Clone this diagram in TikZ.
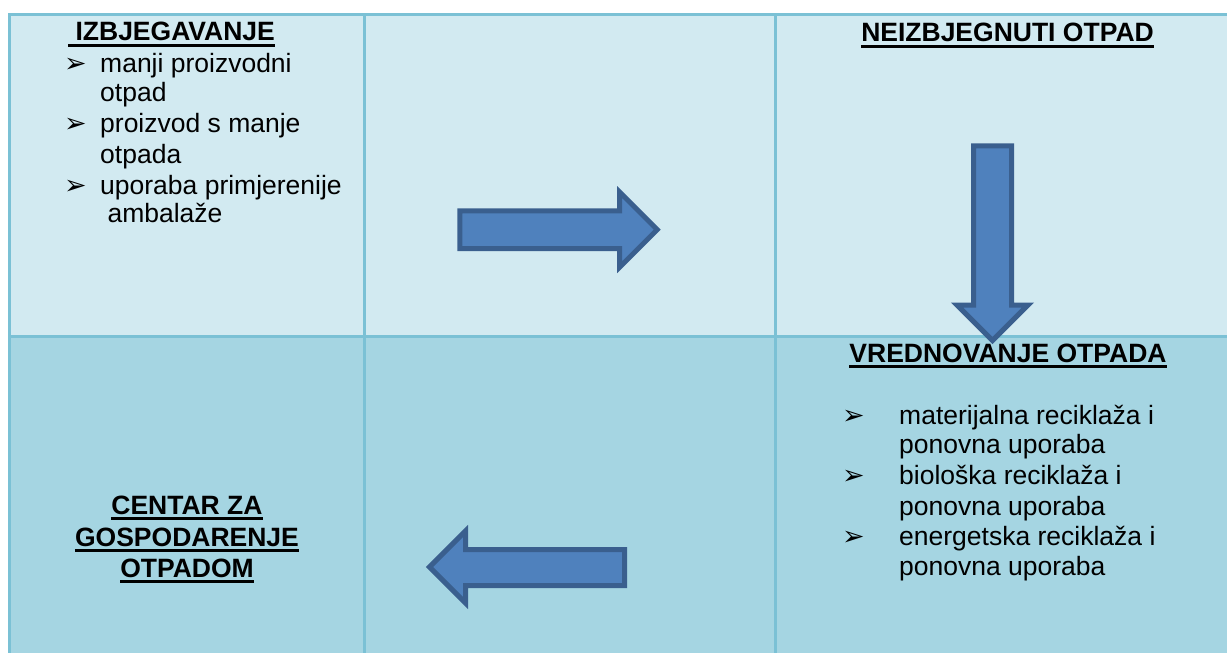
\documentclass[tikz,border=0pt]{standalone}
\usepackage{fontspec}
\setmainfont{Liberation Sans}
\newfontfamily\dejavu{DejaVu Sans}
\usepackage{tikz}
\definecolor{rowtop}{HTML}{D2EAF1}
\definecolor{rowbot}{HTML}{A5D5E2}
\definecolor{gridline}{HTML}{7BC1D5}
\definecolor{arrfill}{HTML}{4F81BD}
\definecolor{arrline}{HTML}{3A5F8E}
\newcommand{\cellt}[4]{\fill[rowtop] ( #1 , #2 ) rectangle ( #3 , #4 );}
\newcommand{\cellb}[4]{\fill[rowbot] ( #1 , #2 ) rectangle ( #3 , #4 );}
\newcommand{\bul}{{\dejavu\fontsize{27}{27}\selectfont ➢}}
\newcommand{\ulnode}[1]{\draw[line width=3pt] ([yshift=-4.5pt]#1.base west) -- ([yshift=-4.5pt]#1.base east);}

\begin{document}
\begin{tikzpicture}[x=1pt, y=-1pt,
    grid/.style={draw=gridline, line width=3pt},
    blockarrow/.style={fill=arrfill, draw=arrline, line width=5pt, miter limit=10},
    txt/.style={anchor=base west, inner sep=0pt, font=\fontsize{26.5}{30}\selectfont},
    head/.style={anchor=base, inner sep=0pt, font=\bfseries\fontsize{26.5}{30}\selectfont},
    bulnode/.style={anchor=base west, inner sep=0pt}]
    \useasboundingbox (0,0) rectangle (1227,653);
    % row 1
    \cellt{9.5}{14.5}{364.3}{336.5}
    \cellt{364.3}{14.5}{775}{336.5}
    \cellt{775}{14.5}{1227}{336.5}
    % row 2
    \cellb{9.5}{336.5}{364.3}{653}
    \cellb{364.3}{336.5}{775}{653}
    \cellb{775}{336.5}{1227}{653}
    % grid
    \draw[grid] (9.5,653) -- (9.5,14.5) -- (1227,14.5);
    \draw[grid] (364.3,14.5) -- (364.3,653);
    \draw[grid] (775,14.5) -- (775,653);
    \draw[grid] (9.5,336.5) -- (1227,336.5);
    % arrows
    \filldraw[blockarrow] (459.8,210.8) -- (619.7,210.8) -- (619.7,192.1) -- (657.2,229.6)
        -- (619.7,267.1) -- (619.7,248.5) -- (459.8,248.5) -- cycle;
    \filldraw[blockarrow] (973.5,145.8) -- (1011.5,145.8) -- (1011.5,305) -- (1028,305)
        -- (992.5,340.5) -- (957,305) -- (973.5,305) -- cycle;
    \filldraw[blockarrow] (624.5,549.5) -- (465.5,549.5) -- (465.5,531) -- (429.5,567)
        -- (465.5,603) -- (465.5,585.5) -- (624.5,585.5) -- cycle;
    % cell 1: izbjegavanje
    \node[head, anchor=base west] (izb) at (68,40.5) {\ IZBJEGAVANJE};
    \ulnode{izb}
    \node[bulnode] (izbb1) at (64,72.7) {\bul};
    \node[txt] (izb1) at (100,72.7) {manji proizvodni};
    \node[txt] (izb2) at (100,101.7) {otpad};
    \node[bulnode] (izbb2) at (64,132.7) {\bul};
    \node[txt] (izb3) at (100,132.7) {proizvod s manje};
    \node[txt] (izb4) at (100,163) {otpada};
    \node[bulnode] (izbb3) at (64,194) {\bul};
    \node[txt] (izb5) at (100,194) {uporaba primjerenije};
    \node[txt] (izb6) at (100,222.7) {\ ambalaže};
    % cell 3: neizbjegnuti otpad
    \node[head] (neo) at (1007.5,41.5) {NEIZBJEGNUTI OTPAD};
    \ulnode{neo}
    % cell 6: vrednovanje otpada
    \node[head] (vro) at (1008,362) {VREDNOVANJE OTPADA};
    \ulnode{vro}
    \node[bulnode] (vrob1) at (842,424) {\bul};
    \node[txt] (vro1) at (899,424) {materijalna reciklaža i};
    \node[txt] (vro2) at (899,453) {ponovna uporaba};
    \node[bulnode] (vrob2) at (842,484) {\bul};
    \node[txt] (vro3) at (899,484) {biološka reciklaža i};
    \node[txt] (vro4) at (899,515) {ponovna uporaba};
    \node[bulnode] (vrob3) at (842,545) {\bul};
    \node[txt] (vro5) at (899,545) {energetska reciklaža i};
    \node[txt] (vro6) at (899,575) {ponovna uporaba};
    % cell 4: centar za gospodarenje otpadom
    \node[head] (cgo1) at (187,514) {CENTAR ZA};
    \ulnode{cgo1}
    \node[head] (cgo2) at (187,546) {GOSPODARENJE};
    \ulnode{cgo2}
    \node[head] (cgo3) at (187,577) {OTPADOM};
    \ulnode{cgo3}
\end{tikzpicture}
\end{document}
